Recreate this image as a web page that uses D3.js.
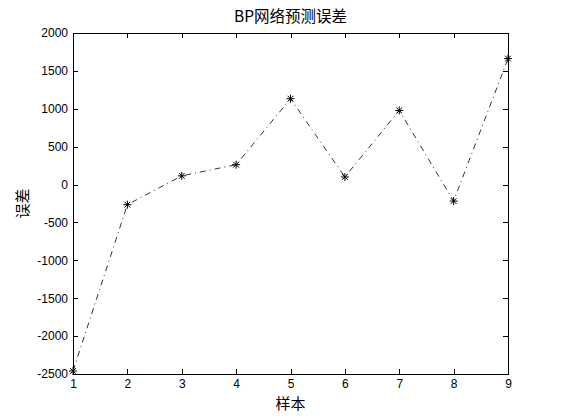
<!DOCTYPE html>
<html>
<head>
<meta charset="utf-8">
<script src="https://cdn.jsdelivr.net/npm/d3@7"></script>
<style>
  body { margin: 0; background: #fff; }
  svg { display: block; }
  .axis text { font-family: Arial, "Liberation Sans", sans-serif; font-size: 12px; fill: #000; }
  .axis path, .axis line { stroke: #000; shape-rendering: crispEdges; }
  .cjk { font-family: "Noto Sans CJK SC", sans-serif; fill: #000; }
</style>
</head>
<body>
<div id="chart"></div>
<script>
// sample index and prediction error
var samples = [1, 2, 3, 4, 5, 6, 7, 8, 9];
var errors = [-2460, -265, 115, 262, 1133, 100, 978, -218, 1662];
var xTicks = [1, 2, 3, 4, 5, 6, 7, 8, 9];
var yTicks = [-2500, -2000, -1500, -1000, -500, 0, 500, 1000, 1500, 2000];

var titleText = "BP网络预测误差";
var xLabel = "样本";
var yLabel = "误差";

var W = 561, H = 420;
var margin = {top: 33, right: 53, bottom: 46, left: 73},
    width = W - margin.left - margin.right,
    height = H - margin.top - margin.bottom;

var svg = d3.select("#chart").append("svg")
    .attr("width", W)
    .attr("height", H);

svg.append("rect").attr("width", W).attr("height", H).attr("fill", "#fff");

var g = svg.append("g")
    .attr("transform", "translate(" + margin.left + "," + margin.top + ")");

var x = d3.scaleLinear().domain([1, 9]).range([0, width]);
var y = d3.scaleLinear().domain([-2500, 2000]).range([height, 0]);

// plain hyphen minus like matlab
var fmt = function(d){ return String(d); };

// box axes, ticks pointing inwards
g.append("g")
    .attr("class", "axis")
    .attr("transform", "translate(0," + height + ")")
    .call(d3.axisBottom(x).tickValues(xTicks).tickFormat(fmt)
      .tickSizeInner(-5).tickSizeOuter(0).tickPadding(5));

g.append("g")
    .attr("class", "axis")
    .call(d3.axisTop(x).tickValues(xTicks).tickFormat("")
      .tickSizeInner(-5).tickSizeOuter(0));

g.append("g")
    .attr("class", "axis")
    .call(d3.axisLeft(y).tickValues(yTicks).tickFormat(fmt)
      .tickSizeInner(-5).tickSizeOuter(0).tickPadding(5));

g.append("g")
    .attr("class", "axis")
    .attr("transform", "translate(" + width + ",0)")
    .call(d3.axisRight(y).tickValues(yTicks).tickFormat("")
      .tickSizeInner(-5).tickSizeOuter(0));

g.selectAll(".axis .tick text").attr("fill", "#000");

// dash-dot error line
var line = d3.line()
    .x(function(d, i){ return x(samples[i]); })
    .y(function(d){ return y(d); });

g.append("path")
    .datum(errors)
    .attr("fill", "none")
    .attr("stroke", "#000")
    .attr("stroke-width", 0.8)
    .attr("stroke-dasharray", "6,4,1,4")
    .attr("d", line);

// matlab style '*' marker (plus + cross)
var star = {
  draw: function(ctx, size){
    var r = Math.sqrt(size) / 2, c = r * 0.72;
    ctx.moveTo(-r, 0); ctx.lineTo(r, 0);
    ctx.moveTo(0, -r); ctx.lineTo(0, r);
    ctx.moveTo(-c, -c); ctx.lineTo(c, c);
    ctx.moveTo(-c, c); ctx.lineTo(c, -c);
  }
};

g.selectAll(".pt")
    .data(errors)
  .enter().append("path")
    .attr("class", "pt")
    .attr("transform", function(d, i){ return "translate(" + x(samples[i]) + "," + y(d) + ")"; })
    .attr("d", d3.symbol().type(star).size(64))
    .attr("fill", "none")
    .attr("stroke", "#000")
    .attr("stroke-width", 1);

// title and labels
svg.append("text")
    .attr("class", "cjk")
    .attr("fill", "#000")
    .attr("x", margin.left + width / 2)
    .attr("y", 22)
    .attr("text-anchor", "middle")
    .style("font-size", "15.5px")
    .text(titleText);

svg.append("text")
    .attr("class", "cjk")
    .attr("fill", "#000")
    .attr("x", margin.left + width / 2)
    .attr("y", 409)
    .attr("text-anchor", "middle")
    .style("font-size", "15px")
    .text(xLabel);

svg.append("text")
    .attr("class", "cjk")
    .attr("fill", "#000")
    .attr("transform", "translate(28," + (margin.top + height / 2) + ") rotate(-90)")
    .attr("text-anchor", "middle")
    .style("font-size", "15px")
    .text(yLabel);
</script>
</body>
</html>
